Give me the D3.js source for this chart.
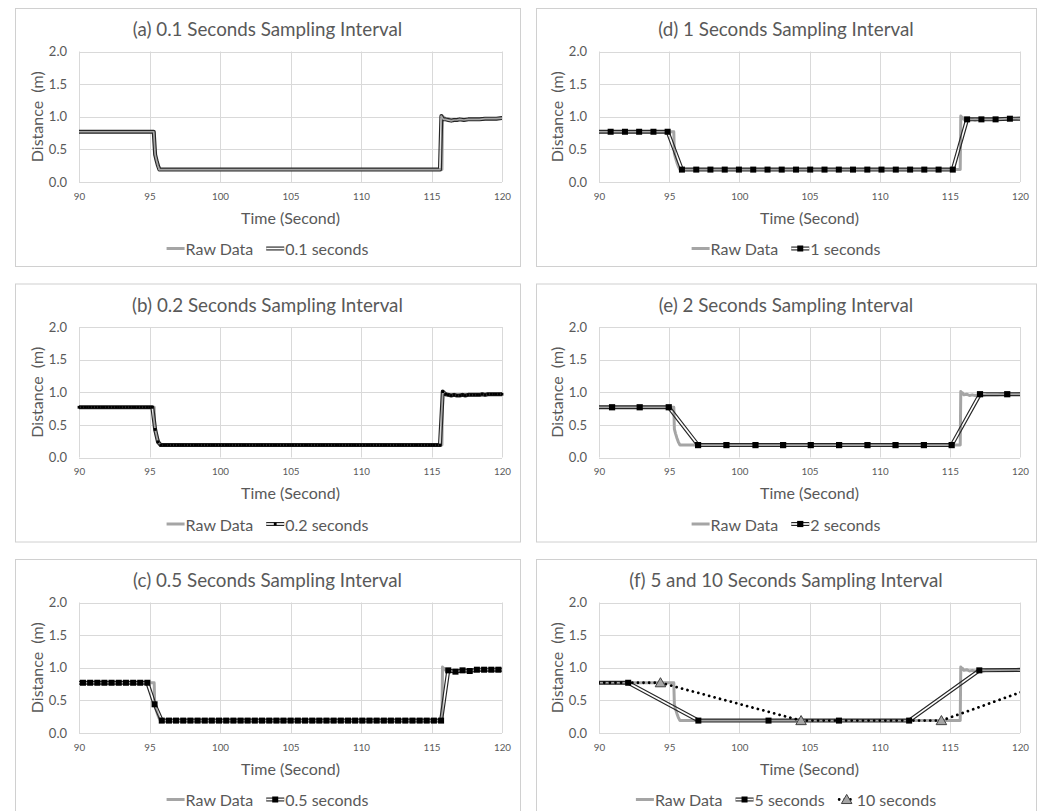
<!DOCTYPE html>
<html><head><meta charset="utf-8">
<script src="https://cdn.jsdelivr.net/npm/d3@7"></script>
<style>
body{margin:0;background:#fff}
svg{display:block}
text{font-family:Lato,"Open Sans",sans-serif;fill:#595959}
</style>
</head><body>
<svg id="c" width="1045" height="811"></svg>
<script>
// ---------- data ----------
const xTicks=[90,95,100,105,110,115,120];
const yTicks=[0,0.5,1.0,1.5,2.0];

// Raw data (breakpoints)
const rawT=[88,95.33,95.37,95.45,95.55,95.65,95.77,115.74,115.78,115.84,115.9,116.0,116.2,116.4,116.6,116.8,117.0,117.3,117.6,118.0,118.4,118.8,119.2,119.6,120.0,121];
const rawV=[0.77,0.77,0.44,0.37,0.30,0.24,0.19,0.19,1.01,0.98,0.99,0.96,0.97,0.95,0.96,0.95,0.96,0.95,0.96,0.96,0.96,0.97,0.97,0.97,0.98,0.98];

// 0.1 seconds (breakpoints)
const s01T=[89.9,95.3,95.4,95.5,95.6,95.7,115.6,115.7,115.8,115.9,116.0,116.2,116.4,116.6,116.8,117.0,117.3,117.6,118.0,118.4,118.8,119.2,119.6,120.0,120.1];
const s01V=[0.77,0.77,0.42,0.33,0.25,0.19,0.19,1.01,0.97,0.96,0.96,0.95,0.94,0.95,0.95,0.96,0.95,0.96,0.96,0.96,0.97,0.97,0.97,0.98,0.98];

// 0.2 seconds
const s02T=[
90.0,90.2,90.4,90.6,90.8,91.0,91.2,91.4,91.6,91.8,
92.0,92.2,92.4,92.6,92.8,93.0,93.2,93.4,93.6,93.8,
94.0,94.2,94.4,94.6,94.8,95.0,95.2,95.4,95.6,95.8,
96.0,96.2,96.4,96.6,96.8,97.0,97.2,97.4,97.6,97.8,
98.0,98.2,98.4,98.6,98.8,99.0,99.2,99.4,99.6,99.8,
100.0,100.2,100.4,100.6,100.8,101.0,101.2,101.4,101.6,101.8,
102.0,102.2,102.4,102.6,102.8,103.0,103.2,103.4,103.6,103.8,
104.0,104.2,104.4,104.6,104.8,105.0,105.2,105.4,105.6,105.8,
106.0,106.2,106.4,106.6,106.8,107.0,107.2,107.4,107.6,107.8,
108.0,108.2,108.4,108.6,108.8,109.0,109.2,109.4,109.6,109.8,
110.0,110.2,110.4,110.6,110.8,111.0,111.2,111.4,111.6,111.8,
112.0,112.2,112.4,112.6,112.8,113.0,113.2,113.4,113.6,113.8,
114.0,114.2,114.4,114.6,114.8,115.0,115.2,115.4,115.6,115.8,
116.0,116.2,116.4,116.6,116.8,117.0,117.2,117.4,117.6,117.8,
118.0,118.2,118.4,118.6,118.8,119.0,119.2,119.4,119.6,119.8,
120.0];
const s02V=[
0.77,0.77,0.77,0.77,0.77,0.77,0.77,0.77,0.77,0.77,
0.77,0.77,0.77,0.77,0.77,0.77,0.77,0.77,0.77,0.77,
0.77,0.77,0.77,0.77,0.77,0.77,0.77,0.43,0.24,0.19,
0.19,0.19,0.19,0.19,0.19,0.19,0.19,0.19,0.19,0.19,
0.19,0.19,0.19,0.19,0.19,0.19,0.19,0.19,0.19,0.19,
0.19,0.19,0.19,0.19,0.19,0.19,0.19,0.19,0.19,0.19,
0.19,0.19,0.19,0.19,0.19,0.19,0.19,0.19,0.19,0.19,
0.19,0.19,0.19,0.19,0.19,0.19,0.19,0.19,0.19,0.19,
0.19,0.19,0.19,0.19,0.19,0.19,0.19,0.19,0.19,0.19,
0.19,0.19,0.19,0.19,0.19,0.19,0.19,0.19,0.19,0.19,
0.19,0.19,0.19,0.19,0.19,0.19,0.19,0.19,0.19,0.19,
0.19,0.19,0.19,0.19,0.19,0.19,0.19,0.19,0.19,0.19,
0.19,0.19,0.19,0.19,0.19,0.19,0.19,0.19,0.19,1.01,
0.97,0.96,0.95,0.96,0.95,0.95,0.96,0.95,0.96,0.96,
0.96,0.96,0.96,0.97,0.96,0.97,0.97,0.97,0.97,0.97,
0.97];

// 0.5 seconds
const s05T=[89.77,90.28,90.79,91.30,91.80,92.31,92.82,93.33,93.84,94.34,94.85,
95.36,95.87,96.38,96.88,97.39,97.90,98.41,98.92,99.42,99.93,
100.44,100.95,101.46,101.96,102.47,102.98,103.49,104.00,104.50,105.01,
105.52,106.03,106.54,107.04,107.55,108.06,108.57,109.08,109.58,110.09,
110.60,111.11,111.62,112.12,112.63,113.14,113.65,114.16,114.66,115.17,
115.68,116.19,116.70,117.20,117.71,118.22,118.73,119.24,119.74,120.25];
const s05V=[0.77,0.77,0.77,0.77,0.77,0.77,0.77,0.77,0.77,0.77,0.77,
0.44,0.19,0.19,0.19,0.19,0.19,0.19,0.19,0.19,0.19,
0.19,0.19,0.19,0.19,0.19,0.19,0.19,0.19,0.19,0.19,
0.19,0.19,0.19,0.19,0.19,0.19,0.19,0.19,0.19,0.19,
0.19,0.19,0.19,0.19,0.19,0.19,0.19,0.19,0.19,0.19,
0.19,0.96,0.94,0.96,0.95,0.97,0.97,0.97,0.97,0.97];

// 1 seconds
const s1T=[89.81,90.83,91.85,92.86,93.88,94.89,95.91,96.93,97.94,98.96,99.97,100.99,102.01,103.02,104.04,105.05,106.07,107.09,108.10,109.12,110.13,111.15,112.17,113.18,114.20,115.21,116.23,117.25,118.26,119.28,120.29];
const s1V=[0.77,0.77,0.77,0.77,0.77,0.77,0.19,0.19,0.19,0.19,0.19,0.19,0.19,0.19,0.19,0.19,0.19,0.19,0.19,0.19,0.19,0.19,0.19,0.19,0.19,0.19,0.96,0.96,0.96,0.97,0.97];

// 2 seconds
const s2T=[88.93,90.93,92.90,94.97,97.06,99.08,101.15,103.12,105.09,107.11,109.13,111.13,113.15,115.13,117.15,119.09,121.1];
const s2V=[0.77,0.77,0.77,0.77,0.19,0.19,0.19,0.19,0.19,0.19,0.19,0.19,0.19,0.19,0.97,0.97,0.97];

// 5 seconds
const s5T=[87.08,92.08,97.08,102.08,107.1,112.1,117.1,122.1];
const s5V=[0.77,0.77,0.19,0.19,0.19,0.19,0.96,0.97];

// 10 seconds
const s10T=[84.38,94.38,104.4,114.4,124.4];
const s10V=[0.77,0.77,0.19,0.19,0.96];

// ---------- layout / style ----------
const W=1045,H=811;
const GRAY='#a5a5a5', DARK='#262626', GRID='#d9d9d9', BORDER='#d0d0d0';
const OUT=4.0, GAP=1.7;
const cols=[{bx:15,bw:505,pl:79,pr:502},{bx:536,bw:500,pl:599,pr:1020}];
const rows=[8,283.5,559];
const BH=258;

const panels=[
 {title:'(a) 0.1 Seconds Sampling Interval',c:0,r:0,series:[{name:'0.1 seconds',t:s01T,v:s01V,style:'double',marker:null}]},
 {title:'(b) 0.2 Seconds Sampling Interval',c:0,r:1,series:[{name:'0.2 seconds',t:s02T,v:s02V,style:'double',marker:'square',ms:2.8}]},
 {title:'(c) 0.5 Seconds Sampling Interval',c:0,r:2,series:[{name:'0.5 seconds',t:s05T,v:s05V,style:'double',marker:'square',ms:6}]},
 {title:'(d) 1 Seconds Sampling Interval',c:1,r:0,series:[{name:'1 seconds',t:s1T,v:s1V,style:'double',marker:'square',ms:6}]},
 {title:'(e) 2 Seconds Sampling Interval',c:1,r:1,series:[{name:'2 seconds',t:s2T,v:s2V,style:'double',marker:'square',ms:6.2}]},
 {title:'(f) 5 and 10 Seconds Sampling Interval',c:1,r:2,series:[
   {name:'5 seconds',t:s5T,v:s5V,style:'double',marker:'square',ms:6},
   {name:'10 seconds',t:s10T,v:s10V,style:'dotted',marker:'triangle',ms:48}]}
];

const svg=d3.select('#c');
const defs=svg.append('defs');
let uidc=0;

function drawMarker(g,type,size,cx,cy){
  if(type==='square'){
    g.append('rect').attr('x',cx-size/2).attr('y',cy-size/2).attr('width',size).attr('height',size).attr('fill','#000');
  } else if(type==='triangle'){
    g.append('path').attr('d',d3.symbol(d3.symbolTriangle,size)()).attr('transform',`translate(${cx},${cy+1})`)
     .attr('fill',GRAY).attr('stroke','#404040').attr('stroke-width',1);
  }
}

panels.forEach(p=>{
  const C=cols[p.c], top=rows[p.r];
  const pT=top+43.5, pB=pT+130.5;
  const x=d3.scaleLinear().domain([90,120]).range([C.pl,C.pr]);
  const y=d3.scaleLinear().domain([0,2]).range([pB,pT]);
  const cxPanel=C.bx+C.bw/2;

  svg.append('rect').attr('x',C.bx+0.5).attr('y',top+0.5).attr('width',C.bw).attr('height',BH)
    .attr('fill','#fff').attr('stroke',BORDER).attr('stroke-width',1);

  // gridlines
  const gg=svg.append('g');
  gg.selectAll('.hg').data(yTicks).join('line')
    .attr('x1',C.pl).attr('x2',C.pr).attr('y1',d=>Math.round(y(d))+0.5).attr('y2',d=>Math.round(y(d))+0.5)
    .attr('stroke',GRID).attr('stroke-width',1);
  gg.selectAll('.vg').data(xTicks).join('line')
    .attr('y1',pT).attr('y2',pB).attr('x1',d=>Math.round(x(d))+0.5).attr('x2',d=>Math.round(x(d))+0.5)
    .attr('stroke',GRID).attr('stroke-width',1);

  // axes (labels only)
  const xa=svg.append('g').attr('transform',`translate(0,${pB})`)
    .call(d3.axisBottom(x).tickValues(xTicks).tickSize(0).tickPadding(11).tickFormat(d3.format('d')));
  xa.select('.domain').remove();
  xa.selectAll('text').attr('font-size',9.8).style('font-family','Lato,"Open Sans",sans-serif').attr('fill','#595959');
  const ya=svg.append('g').attr('transform',`translate(${C.pl},0)`)
    .call(d3.axisLeft(y).tickValues(yTicks).tickSize(0).tickPadding(12).tickFormat(d3.format('.1f')));
  ya.select('.domain').remove();
  ya.selectAll('text').attr('font-size',13).style('font-family','Lato,"Open Sans",sans-serif').attr('fill','#595959');

  // titles
  svg.append('text').attr('x',cxPanel).attr('y',top+20.5).attr('text-anchor','middle').attr('dominant-baseline','central')
    .attr('font-size',18.8).text(p.title);
  svg.append('text').attr('x',(C.pl+C.pr)/2).attr('y',pB+35).attr('text-anchor','middle').attr('dominant-baseline','central')
    .attr('font-size',16).text('Time (Second)');
  svg.append('text').attr('transform',`translate(${C.pl-43},${(pT+pB)/2}) rotate(-90)`).attr('text-anchor','middle')
    .attr('dominant-baseline','central').attr('font-size',16).style('white-space','pre').text('Distance  (m)');

  // clip
  const clipId='clip'+(uidc++);
  defs.append('clipPath').attr('id',clipId).append('rect').attr('x',C.pl).attr('y',pT-6).attr('width',C.pr-C.pl).attr('height',pB-pT+12);

  const line=d3.line().x(d=>x(d[0])).y(d=>y(d[1]));

  // raw
  svg.append('g').attr('clip-path',`url(#${clipId})`).append('path')
    .attr('d',line(rawT.map((t,i)=>[t,rawV[i]]))).attr('fill','none').attr('stroke',GRAY).attr('stroke-width',3).attr('stroke-linejoin','round');

  p.series.forEach(s=>{
    const pts=s.t.map((t,i)=>[t,s.v[i]]);
    const d=line(pts);
    const g=svg.append('g').attr('clip-path',`url(#${clipId})`);
    if(s.style==='double'){
      const mid='mask'+(uidc++);
      const m=defs.append('mask').attr('id',mid).attr('maskUnits','userSpaceOnUse').attr('x',0).attr('y',0).attr('width',W).attr('height',H);
      m.append('path').attr('d',d).attr('fill','none').attr('stroke','#fff').attr('stroke-width',OUT+2).attr('stroke-linejoin','round');
      m.append('path').attr('d',d).attr('fill','none').attr('stroke','#000').attr('stroke-width',GAP).attr('stroke-linejoin','round');
      g.append('path').attr('d',d).attr('fill','none').attr('stroke',DARK).attr('stroke-width',OUT).attr('stroke-linejoin','round').attr('mask',`url(#${mid})`);
    } else {
      g.append('path').attr('d',d).attr('fill','none').attr('stroke','#000').attr('stroke-width',2.8)
       .attr('stroke-linecap','round').attr('stroke-dasharray','0.01 5.6');
    }
    if(s.marker){
      const mg=svg.append('g');
      pts.filter(q=>q[0]>=90&&q[0]<=120).forEach(q=>drawMarker(mg,s.marker,s.ms,x(q[0]),y(q[1])));
    }
  });

  // legend
  const ly=pB+66.5;
  const entries=[{name:'Raw Data',style:'raw'}].concat(p.series);
  const lg=svg.append('g');
  const SW=18, TG=1, EG=13;
  const items=entries.map(e=>{
    const g=lg.append('g');
    const t=g.append('text').attr('x',SW+TG).attr('y',0).attr('dominant-baseline','central').attr('font-size',16).text(e.name);
    return {e,g,w:SW+TG+t.node().getComputedTextLength()};
  });
  const total=d3.sum(items,d=>d.w)+EG*(items.length-1);
  let cx=cxPanel-total/2;
  items.forEach(it=>{
    it.g.attr('transform',`translate(${cx},${ly})`);
    const e=it.e;
    if(e.style==='raw'){
      it.g.append('line').attr('x1',0).attr('x2',SW).attr('y1',0).attr('y2',0).attr('stroke',GRAY).attr('stroke-width',3);
    } else if(e.style==='double'){
      it.g.append('line').attr('x1',0).attr('x2',SW).attr('y1',0).attr('y2',0).attr('stroke',DARK).attr('stroke-width',OUT);
      it.g.append('line').attr('x1',0).attr('x2',SW).attr('y1',0).attr('y2',0).attr('stroke','#fff').attr('stroke-width',GAP);
    } else {
      it.g.append('line').attr('x1',1.5).attr('x2',SW).attr('y1',0).attr('y2',0).attr('stroke','#000').attr('stroke-width',2.8)
        .attr('stroke-linecap','round').attr('stroke-dasharray','0.01 5.6');
    }
    if(e.marker) drawMarker(it.g,e.marker,e.ms,SW/2,0);
    cx+=it.w+EG;
  });
});
</script>
</body></html>
